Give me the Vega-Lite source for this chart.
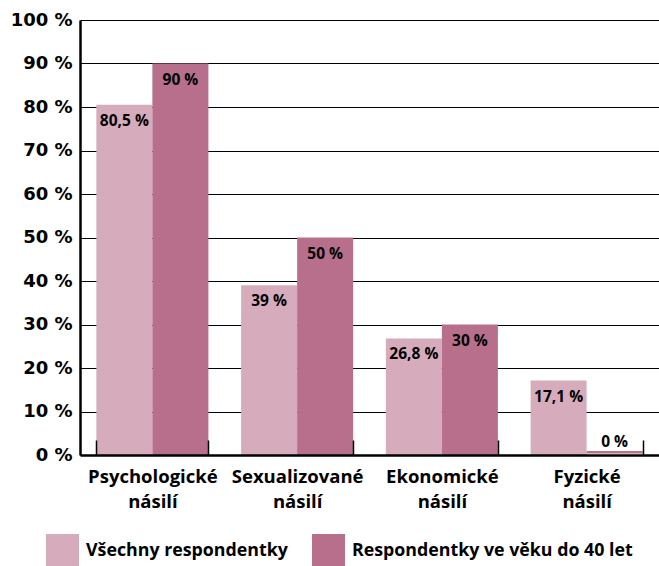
{
  "$schema": "https://vega.github.io/schema/vega-lite/v6.json",
  "autosize": "none",
  "padding": {"left": 80, "top": 20, "right": 0, "bottom": 111},
  "width": 579,
  "height": 435,
  "background": "white",
  "config": {"view": {"stroke": null}, "font": "Open Sans"},
  "data": {"values": [
    {"cat": "Psychologické násilí", "group": "Všechny respondentky", "value": 80.5, "label": "80,5 %"},
    {"cat": "Psychologické násilí", "group": "Respondentky ve věku do 40 let", "value": 90, "label": "90 %"},
    {"cat": "Sexualizované násilí", "group": "Všechny respondentky", "value": 39, "label": "39 %"},
    {"cat": "Sexualizované násilí", "group": "Respondentky ve věku do 40 let", "value": 50, "label": "50 %"},
    {"cat": "Ekonomické násilí", "group": "Všechny respondentky", "value": 26.8, "label": "26,8 %"},
    {"cat": "Ekonomické násilí", "group": "Respondentky ve věku do 40 let", "value": 30, "label": "30 %"},
    {"cat": "Fyzické násilí", "group": "Všechny respondentky", "value": 17.1, "label": "17,1 %"},
    {"cat": "Fyzické násilí", "group": "Respondentky ve věku do 40 let", "value": 0, "label": "0 %"}
  ]},
  "encoding": {
    "x": {"field": "cat", "type": "nominal", "sort": null,
      "scale": {"paddingInner": 0.226, "paddingOuter": 0.113},
      "axis": {"title": null, "labelAngle": 0, "labelExpr": "split(datum.label, ' ')",
        "labelFont": "Open Sans", "labelFontSize": 18.5, "labelFontWeight": "bold", "labelColor": "black",
        "labelLineHeight": 25, "labelPadding": 27, "tickBand": "extent", "tickSize": -15,
        "tickColor": "black", "tickWidth": 1.5, "domainColor": "black", "domainWidth": 2.5, "zindex": 1}},
    "xOffset": {"field": "group", "type": "nominal", "sort": ["Všechny respondentky", "Respondentky ve věku do 40 let"]},
    "y": {"field": "value", "type": "quantitative",
      "scale": {"domain": [0, 100], "nice": false},
      "axis": {"title": null, "values": [0,10,20,30,40,50,60,70,80,90,100],
        "labelExpr": "datum.value + ' %'", "labelFont": "DejaVu Sans", "labelFontSize": 18, "labelFontWeight": "bold",
        "labelColor": "black", "labelPadding": 8, "ticks": false, "domainColor": "black", "domainWidth": 2.5,
        "gridColor": "black", "gridWidth": 1.2, "gridOpacity": 1}},
    "color": {"field": "group", "type": "nominal", "sort": ["Všechny respondentky", "Respondentky ve věku do 40 let"],
      "scale": {"range": ["#D6ACBC", "#B76F8B"]},
      "legend": {"title": null, "orient": "none", "direction": "horizontal", "legendX": -34, "legendY": 514,
        "symbolType": "square", "symbolSize": 1089, "symbolStrokeWidth": 0, "symbolOpacity": 1,
        "labelFont": "Open Sans", "labelFontSize": 17.8, "labelFontWeight": "bold", "labelColor": "black",
        "labelOffset": 7, "columnPadding": 24, "labelLimit": 400}}
  },
  "layer": [
    {"transform": [{"filter": "datum.value > 0"}], "mark": {"type": "bar"}},
    {"transform": [{"filter": "datum.value == 0"}],
     "mark": {"type": "bar", "yOffset": -4, "y2Offset": -1.5},
     "encoding": {"y2": {"datum": 0}}},
    {"transform": [{"filter": "datum.value > 0"}],
     "mark": {"type": "text", "dy": 16, "font": "Open Sans", "fontSize": 15.5, "fontWeight": "bold"},
     "encoding": {"text": {"field": "label"}, "color": {"value": "black"}}},
    {"transform": [{"filter": "datum.value == 0"}],
     "mark": {"type": "text", "dy": -13, "font": "Open Sans", "fontSize": 15.5, "fontWeight": "bold"},
     "encoding": {"text": {"field": "label"}, "color": {"value": "black"}}}
  ]
}
